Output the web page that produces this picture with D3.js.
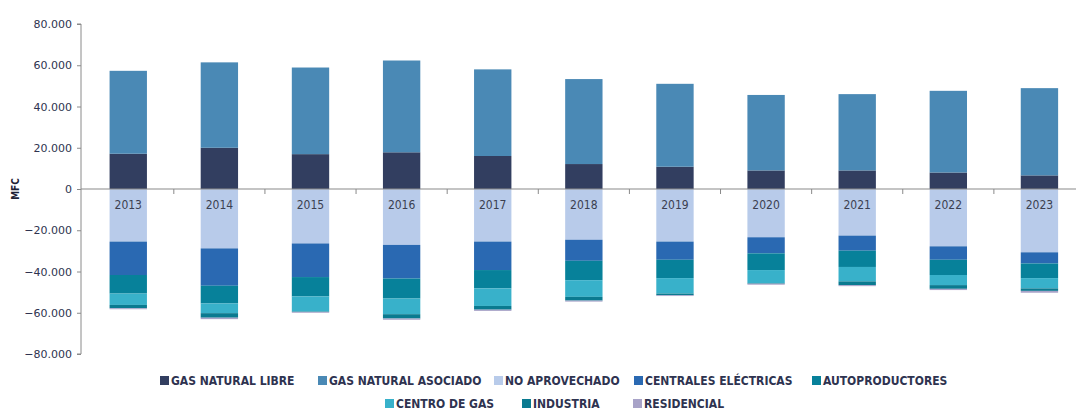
<html>
<head>
<script src="https://d3js.org/d3.v7.min.js"></script>
<style>
body { margin: 0; background: #fff; }
svg { display: block; }
.tick-label { font-family: 'DejaVu Sans', sans-serif; font-size: 11px; fill: #2e3350; }
.year { font-family: 'DejaVu Sans Condensed', 'DejaVu Sans', sans-serif; font-size: 12px; fill: #3b3f50; }
.legend text { font-family: 'DejaVu Sans Condensed', 'DejaVu Sans', sans-serif; font-size: 12px; font-weight: bold; fill: #2e3350; }
</style>
</head>
<body>
<div id="plot"></div>
<script>

var width = 1076;
var height = 410;

// Data (MPC)
var years = ["2013", "2014", "2015", "2016", "2017", "2018", "2019", "2020", "2021", "2022", "2023"];

var gasLibre     = [17100, 20000, 16900, 17800, 16000, 12100, 10800, 9000, 9000, 8000, 6600];
var gasAsociado  = [40200, 41400, 42000, 44500, 42000, 41200, 40200, 36600, 37000, 39600, 42300];

var noAprovechado = [25500, 28800, 26400, 27100, 25500, 24600, 25500, 23400, 22600, 27800, 30700];
var centrales     = [16200, 18100, 16300, 16300, 13800, 10200, 8800, 7800, 7300, 6500, 5400];
var autoprod      = [9000, 8600, 9400, 9700, 8900, 9400, 8900, 8100, 7900, 7400, 7100];
var centroGas     = [5500, 4700, 7300, 7600, 8500, 8100, 7500, 6300, 7000, 4900, 5000];
var industria     = [1600, 2200, 200, 2100, 1800, 1800, 800, 300, 1800, 1800, 1200];
var residencial   = [500, 700, 400, 600, 600, 500, 400, 500, 500, 600, 900];

var seriesNames = ["GAS NATURAL LIBRE", "GAS NATURAL ASOCIADO", "NO APROVECHADO", "CENTRALES ELÉCTRICAS",
  "AUTOPRODUCTORES", "CENTRO DE GAS", "INDUSTRIA", "RESIDENCIAL"];
var seriesColors = ["#323e60", "#4a89b5", "#b8cbea", "#2a69b2", "#07819a", "#38b1ca", "#0a7a90", "#a8a3c8"];

var yTicks = [-80000, -60000, -40000, -20000, 0, 20000, 40000, 60000, 80000];

// legend layout: [x, y] per item
var legendPos = [[160, 380], [318, 380], [494, 380], [634, 380], [812, 380], [385, 403], [522, 403], [633, 403]];

var positive = [gasLibre, gasAsociado];
var negative = [noAprovechado, centrales, autoprod, centroGas, industria, residencial];

var svg = d3.select("#plot").append("svg").attr("width", width).attr("height", height);

var xScale = d3.scaleBand().domain(years).range([82.7, 1085]).paddingInner(0.59).paddingOuter(0.295);
var yScale = d3.scaleLinear().domain([-80000, 80000]).range([354, 24]);

var locale = d3.formatLocale({ decimal: ",", thousands: ".", grouping: [3], currency: ["", ""] });
var fmt = locale.format(",.0f");

// Stacked bars: positive series go up from zero, negative series go down
function drawStack(list, colorOffset, sign) {
  years.forEach(function (year, i) {
    var base = 0;
    list.forEach(function (values, k) {
      var v = values[i];
      var y0 = yScale(base);
      var y1 = yScale(base + sign * v);
      svg.append("rect")
        .attr("x", xScale(year))
        .attr("width", xScale.bandwidth())
        .attr("y", Math.min(y0, y1))
        .attr("height", Math.abs(y1 - y0))
        .attr("fill", seriesColors[colorOffset + k]);
      base += sign * v;
    });
  });
}

drawStack(positive, 0, 1);
drawStack(negative, 2, -1);

// Y axis
var yAxis = d3.axisLeft(yScale).tickValues(yTicks).tickSize(4).tickFormat(fmt);
var gy = svg.append("g").attr("transform", "translate(81,0)").call(yAxis);
gy.select(".domain").attr("stroke", "#8a8a8a").attr("d", "M-4," + yScale(80000) + "H0V" + yScale(-80000) + "H-4");
gy.selectAll(".tick line").attr("stroke", "#8a8a8a");
gy.selectAll(".tick text").attr("class", "tick-label").attr("x", -9);

svg.append("text")
  .attr("transform", "translate(19," + yScale(0) + ") rotate(-90)")
  .attr("text-anchor", "middle")
  .style("font-family", "'DejaVu Sans Condensed', 'DejaVu Sans', sans-serif")
  .style("font-size", "10px").style("font-weight", "bold").style("fill", "#1e2235")
  .text("MFC");

// X axis at zero, ticks between categories
var y0 = yScale(0);
svg.append("line").attr("x1", 81).attr("x2", width).attr("y1", y0).attr("y2", y0)
  .attr("stroke", "#8a8a8a").attr("stroke-width", 1.2);
var step = xScale.step();
svg.selectAll("line.xtick").data(years.slice(1)).enter().append("line")
  .attr("class", "xtick")
  .attr("x1", function (d) { return xScale(d) - (step - xScale.bandwidth()) / 2; })
  .attr("x2", function (d) { return xScale(d) - (step - xScale.bandwidth()) / 2; })
  .attr("y1", y0).attr("y2", y0 + 5)
  .attr("stroke", "#8a8a8a");

svg.selectAll("text.year").data(years).enter().append("text")
  .attr("class", "year")
  .attr("x", function (d) { return xScale(d) + xScale.bandwidth() / 2; })
  .attr("y", y0 + 20)
  .attr("text-anchor", "middle")
  .text(function (d) { return d; });

// Legend
var legend = svg.append("g").attr("class", "legend");
seriesNames.forEach(function (name, i) {
  var p = legendPos[i];
  legend.append("rect").attr("x", p[0]).attr("y", p[1] - 4).attr("width", 9).attr("height", 9)
    .attr("fill", seriesColors[i]);
  legend.append("text").attr("x", p[0] + 11).attr("y", p[1] + 4.5).text(name);
});

</script>
</body>
</html>
